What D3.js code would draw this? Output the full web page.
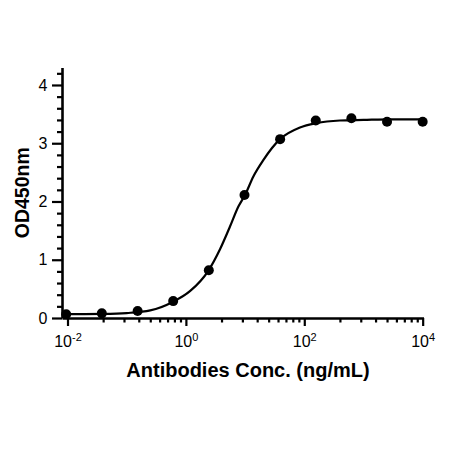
<!DOCTYPE html>
<html>
<head>
<meta charset="utf-8">
<script src="https://cdn.jsdelivr.net/npm/d3@7"></script>
<style>
  body { margin: 0; background: #fff; }
  text { font-family: Arial, "Liberation Sans", sans-serif; }
</style>
</head>
<body>
<div id="chart"></div>
<script>
// measured points (4-fold dilution)
const conc = [0.0095, 0.038, 0.153, 0.61, 2.44, 9.77, 39.06, 156.25, 625, 2500, 10000];
const od = [0.064, 0.08, 0.12, 0.29, 0.82, 2.11, 3.07, 3.39, 3.43, 3.37, 3.37];

// fitted curve
const curveConc = [0.0095, 0.04, 0.1, 0.25, 0.61, 1.17, 2.39, 3.77, 5.56, 7.67, 9.96, 13.8, 20.3, 38.9, 84.6, 160, 400, 1000, 3000, 10000];
const curveOD = [0.065, 0.07, 0.085, 0.13, 0.28, 0.46, 0.81, 1.18, 1.57, 1.91, 2.11, 2.43, 2.71, 3.07, 3.27, 3.345, 3.39, 3.40, 3.41, 3.41];

const xMajor = [1e-2, 1e0, 1e2, 1e4];
const xMajorExp = ["-2", "0", "2", "4"];
const yMajor = [0, 1, 2, 3, 4];
const yMinor = [0.2, 0.4, 0.6, 0.8, 1.2, 1.4, 1.6, 1.8, 2.2, 2.4, 2.6, 2.8, 3.2, 3.4, 3.6, 3.8, 4.2];

// minor x ticks: each 2-decade span split like one log decade
const xMinor = [];
[-2, 0, 2].forEach(m => {
  for (let k = 2; k <= 9; k++) xMinor.push(Math.pow(10, m + 2 * Math.log10(k)));
});

const svg = d3.select("#chart").append("svg")
    .attr("width", 450)
    .attr("height", 450);

svg.append("rect").attr("width", 450).attr("height", 450).attr("fill", "#fff");

const x = d3.scaleLog()
    .domain([Math.pow(10, -2.093), Math.pow(10, 4.014)])
    .range([62, 423.5]);

const y = d3.scaleLinear()
    .domain([0, 4.3])
    .range([318, 67.5]);

// x axis
const xAxis = svg.append("g")
    .attr("transform", `translate(0,${y(0)})`)
    .call(d3.axisBottom(x).tickValues(xMajor).tickSize(8).tickSizeOuter(0).tickPadding(10).tickFormat(""));

svg.append("g")
    .attr("transform", `translate(0,${y(0)})`)
    .call(d3.axisBottom(x).tickValues(xMinor).tickSize(4.5).tickSizeOuter(0).tickFormat(""))
    .select(".domain").remove();

xAxis.selectAll(".tick text").each(function(d, i) {
  const t = d3.select(this);
  t.attr("font-size", 16).attr("fill", "#000").attr("dy", null).attr("y", 29);
  t.append("tspan").text("10");
  t.append("tspan").attr("font-size", 11).attr("dy", -6).text(xMajorExp[i]);
});

// y axis
svg.append("g")
    .attr("transform", `translate(${x.range()[0]},0)`)
    .call(d3.axisLeft(y).tickValues(yMajor).tickSize(10).tickSizeOuter(0).tickPadding(4.5).tickFormat(d3.format("d")))
    .selectAll(".tick text")
    .attr("font-size", 16)
    .attr("fill", "#000");

svg.append("g")
    .attr("transform", `translate(${x.range()[0]},0)`)
    .call(d3.axisLeft(y).tickValues(yMinor).tickSize(5).tickSizeOuter(0).tickFormat(""))
    .select(".domain").remove();

svg.selectAll(".domain").attr("stroke", "#000").attr("stroke-width", 2.6);
svg.selectAll(".tick line").attr("stroke", "#000").attr("stroke-width", 2.2);

// fitted curve
const curvePts = curveConc.map((c, i) => [c, curveOD[i]]);
svg.append("path")
    .datum(curvePts)
    .attr("fill", "none")
    .attr("stroke", "#000")
    .attr("stroke-width", 2.2)
    .attr("d", d3.line()
        .x(d => x(d[0]))
        .y(d => y(d[1]))
        .curve(d3.curveMonotoneX));

// data points
svg.selectAll(".dot")
    .data(conc.map((c, i) => [c, od[i]]))
    .enter().append("circle")
    .attr("class", "dot")
    .attr("cx", d => x(d[0]))
    .attr("cy", d => y(d[1]))
    .attr("r", 5)
    .attr("fill", "#000");

// titles
svg.append("text")
    .attr("x", 248)
    .attr("y", 377)
    .attr("text-anchor", "middle")
    .attr("font-size", 20)
    .attr("font-weight", "bold")
    .text("Antibodies Conc. (ng/mL)");

svg.append("text")
    .attr("transform", `translate(29,${(y(0) + y(4.3)) / 2}) rotate(-90)`)
    .attr("text-anchor", "middle")
    .attr("font-size", 19.5)
    .attr("font-weight", "bold")
    .text("OD450nm");
</script>
</body>
</html>
